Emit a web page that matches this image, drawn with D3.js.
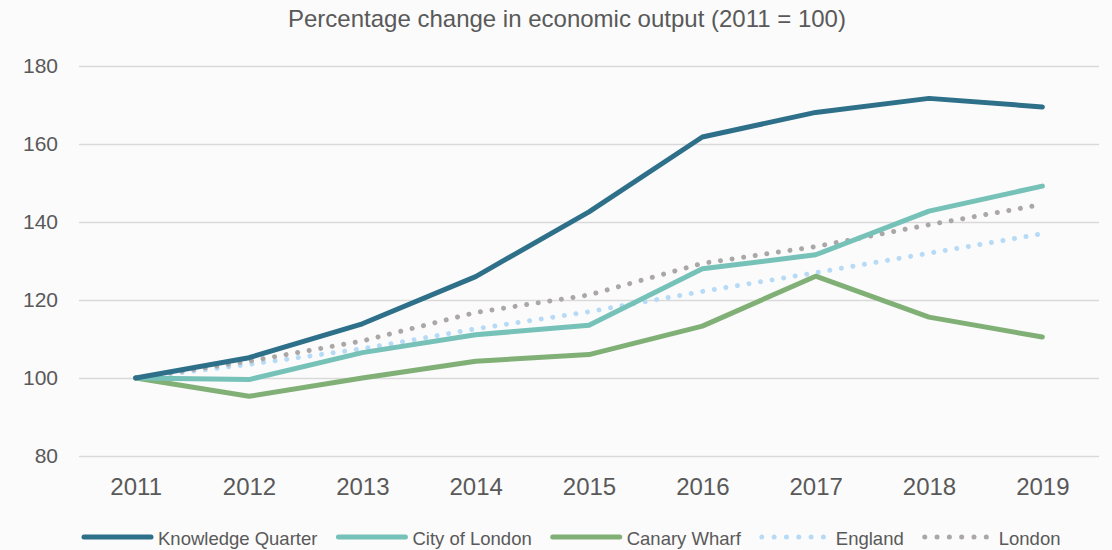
<!DOCTYPE html>
<html>
<head>
<meta charset="utf-8">
<script src="https://cdn.jsdelivr.net/npm/d3@7"></script>
<style>
  body { margin: 0; background: #fbfbfb; }
  text { font-family: "Liberation Sans", Arial, sans-serif; fill: #595959; }
</style>
</head>
<body>
<script>
"use strict";

var years = ["2011", "2012", "2013", "2014", "2015", "2016", "2017", "2018", "2019"];
var yTicks = [80, 100, 120, 140, 160, 180];

var knowledgeQuarter = [100, 105.2, 113.9, 126, 142.6, 161.8, 168.1, 171.7, 169.5];
var cityOfLondon     = [100, 99.6, 106.5, 111.1, 113.5, 128, 131.6, 142.8, 149.2];
var canaryWharf      = [100, 95.3, 100, 104.3, 106, 113.3, 126.1, 115.6, 110.5];
var england          = [100, 103.5, 107.5, 112.6, 117, 122.2, 127, 132, 137];
var london           = [100, 104.3, 109.5, 116.8, 121.3, 129.4, 133.7, 139.3, 144.5];

var seriesNames  = ["Knowledge Quarter", "City of London", "Canary Wharf", "England", "London"];
var seriesValues = [knowledgeQuarter, cityOfLondon, canaryWharf, england, london];
var seriesColors = ["#2e7089", "#76c1b8", "#81b077", "#b7dbf7", "#aba7a7"];
var seriesDotted = [false, false, false, true, true];

var widthEcran = 1112, heightEcran = 550;

var canvas = d3.select("body")
    .append("svg")
    .attr("width", widthEcran)
    .attr("height", heightEcran);

var x = d3.scalePoint()
    .domain(years)
    .range([79, 1099])
    .padding(0.5);

var y = d3.scaleLinear()
    .domain([80, 180])
    .range([456, 66]);

// title
canvas.append("text")
    .attr("x", 567)
    .attr("y", 27)
    .attr("text-anchor", "middle")
    .attr("font-size", "24px")
    .text("Percentage change in economic output (2011 = 100)");

// gridlines + y labels
var yAxis = canvas.append("g")
    .attr("transform", "translate(79,0)")
    .call(d3.axisLeft(y).tickValues(yTicks).tickSize(-1020).tickPadding(21));
yAxis.select(".domain").remove();
yAxis.selectAll("line").attr("stroke", "#d9d9d9").attr("stroke-width", 1.5);
yAxis.selectAll("text")
    .attr("font-size", "21px")
    .attr("font-family", "Liberation Sans, Arial, sans-serif")
    .attr("fill", "#595959");

// x labels
var xAxis = canvas.append("g")
    .attr("transform", "translate(0,456)")
    .call(d3.axisBottom(x).tickSize(0).tickPadding(22));
xAxis.select(".domain").remove();
xAxis.selectAll("text")
    .attr("font-size", "24px")
    .attr("font-family", "Liberation Sans, Arial, sans-serif")
    .attr("fill", "#595959");

var line = d3.line()
    .x(function(d, i) { return x(years[i]); })
    .y(function(d) { return y(d); });

// draw dotted first so solid lines sit on top where they cross
var order = [3, 4, 2, 1, 0];
order.forEach(function(k) {
    var path = canvas.append("path")
        .datum(seriesValues[k])
        .attr("d", line)
        .attr("fill", "none")
        .attr("stroke", seriesColors[k])
        .attr("stroke-linejoin", "round")
        .attr("stroke-linecap", "round");
    if (seriesDotted[k]) {
        path.attr("stroke-width", 5).attr("stroke-dasharray", "0.01 11.7");
    } else {
        path.attr("stroke-width", 5);
    }
});

// legend
var legend = canvas.append("g");
var lx = 82, ly = 537;
seriesNames.forEach(function(name, k) {
    var g = legend.append("g");
    g.append("line")
        .attr("x1", lx + 2).attr("x2", lx + 69)
        .attr("y1", ly).attr("y2", ly)
        .attr("stroke", seriesColors[k])
        .attr("stroke-linecap", "round")
        .attr("stroke-width", 5)
        .attr("stroke-dasharray", seriesDotted[k] ? "0.01 12.3" : null);
    var t = g.append("text")
        .attr("x", lx + 76)
        .attr("y", ly + 8)
        .attr("font-size", "18.5px")
        .text(name);
    lx = lx + 76 + t.node().getComputedTextLength() + 19;
});
</script>
</body>
</html>
